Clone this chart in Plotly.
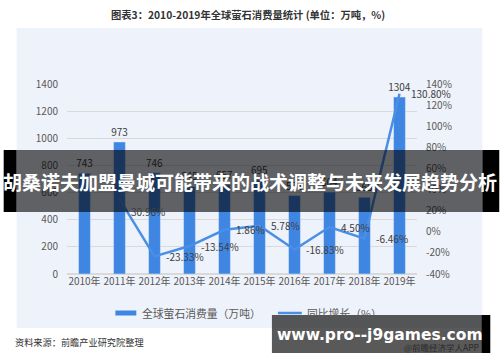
import plotly.graph_objects as go

years = ["2010年", "2011年", "2012年", "2013年", "2014年", "2015年", "2016年", "2017年", "2018年", "2019年"]
consumption = [743, 973, 746, 645, 657, 695, 578, 604, 565, 1304]
growth_years = years[1:]
growth = [30.96, -23.33, -13.54, 1.86, 5.78, -16.83, 4.50, -6.46, 130.80]
growth_labels = ["30.96%", "-23.33%", "-13.54%", "1.86%", "5.78%", "-16.83%", "4.50%", "-6.46%", "130.80%"]
left_ticks = [0, 200, 400, 600, 800, 1000, 1200, 1400]
right_ticks = [-40, -20, 0, 20, 40, 60, 80, 100, 120, 140]

W, H = 500, 362
L, R, T, B = 66.5, 417.5, 84, 274
FONT = "Noto Sans CJK SC"
BAR = "#3F86E3"
LINE = "#4A8FE6"

def px(x):
    return (x - L) / (R - L)

def py(y):
    return (B - y) / (B - T)

fig = go.Figure()
fig.add_trace(go.Bar(
    x=years, y=consumption, width=0.34, marker_color=BAR,
    text=[str(v) for v in consumption], textposition="outside", constraintext="none",
    textfont=dict(family=FONT, size=10, color="#404040"),
    cliponaxis=False, name="全球萤石消费量（万吨）", showlegend=False,
))
fig.add_trace(go.Scatter(
    x=growth_years, y=growth, yaxis="y2", mode="lines",
    line=dict(color=LINE, width=2.5),
    cliponaxis=False, name="同比增长（%）", showlegend=False,
))

shapes = [
    dict(type="rect", xref="paper", yref="paper", x0=px(16), x1=px(483), y0=py(328), y1=py(28),
         fillcolor="#EEF2FA", line=dict(width=0), layer="below"),
    dict(type="rect", xref="paper", yref="paper", x0=px(115), x1=px(136), y0=py(315.5), y1=py(310.5),
         fillcolor=BAR, line=dict(width=0)),
    dict(type="line", xref="paper", yref="paper", x0=px(278), x1=px(302), y0=py(313), y1=py(313),
         line=dict(color=LINE, width=2.5)),
    dict(type="rect", xref="paper", yref="paper", x0=px(16), x1=px(483), y0=py(212), y1=py(150),
         fillcolor="rgba(0,0,0,0.6)", line=dict(width=0), layer="above"),
    dict(type="rect", xref="paper", yref="paper", x0=px(3), x1=px(16), y0=py(212), y1=py(150),
         fillcolor="#000000", line=dict(width=0), layer="above"),
    dict(type="rect", xref="paper", yref="paper", x0=px(483), x1=px(500), y0=py(212), y1=py(150),
         fillcolor="#000000", line=dict(width=0), layer="above"),
    dict(type="rect", xref="paper", yref="paper", x0=px(272), x1=px(482), y0=py(353), y1=py(315),
         fillcolor="rgba(0,0,0,0.65)", line=dict(width=0), layer="above"),
    dict(type="rect", xref="paper", yref="paper", x0=px(482), x1=px(491), y0=py(353), y1=py(315),
         fillcolor="#000000", line=dict(width=0), layer="above"),
]

annotations = []
for i, (yr, g, lab) in enumerate(zip(growth_years, growth, growth_labels)):
    annotations.append(dict(
        text=lab, x=yr, y=g, xref="x", yref="y2", showarrow=False,
        xanchor="left", yanchor="middle", xshift=9, yshift=(-12 if i == 0 else 0),
        font=dict(family=FONT, size=10, color="#404040"),
    ))

annotations += [
    dict(text="<b>图表3：2010-2019年全球萤石消费量统计 (单位：万吨，%)</b>", x=px(248), y=py(14),
         xref="paper", yref="paper", showarrow=False, xanchor="center", yanchor="middle",
         font=dict(family=FONT, size=10.3, color="#333333")),
    dict(text="全球萤石消费量（万吨）", x=px(140), y=py(313), xref="paper", yref="paper",
         showarrow=False, xanchor="left", yanchor="middle",
         font=dict(family=FONT, size=10.8, color="#595959")),
    dict(text="同比增长（%）", x=px(305), y=py(313), xref="paper", yref="paper",
         showarrow=False, xanchor="left", yanchor="middle",
         font=dict(family=FONT, size=10.8, color="#595959")),
    dict(text="资料来源：前瞻产业研究院整理", x=px(12), y=py(342), xref="paper", yref="paper",
         showarrow=False, xanchor="left", yanchor="middle",
         font=dict(family=FONT, size=9.2, color="#333333")),
    dict(text="<b>胡桑诺夫加盟曼城可能带来的战术调整与未来发展趋势分析</b>", x=px(250), y=py(181),
         xref="paper", yref="paper", showarrow=False, xanchor="center", yanchor="middle",
         font=dict(family=FONT, size=19, color="#FFFFFF")),
    dict(text="<b>www.pro--j9games.com</b>", x=px(380), y=py(335), xref="paper", yref="paper",
         showarrow=False, xanchor="center", yanchor="middle",
         font=dict(family="DejaVu Sans", size=15.5, color="#FFFFFF")),
    dict(text="@前瞻经济学人APP", x=px(482), y=py(347), xref="paper", yref="paper",
         showarrow=False, xanchor="right", yanchor="middle",
         font=dict(family=FONT, size=8.5, color="#2a2a2a")),
]

fig.update_layout(
    width=W, height=H,
    margin=dict(l=L, r=W - R, t=T, b=H - B, pad=0),
    paper_bgcolor="#FFFFFF", plot_bgcolor="rgba(0,0,0,0)",
    showlegend=False,
    font=dict(family=FONT, size=10, color="#595959"),
    xaxis=dict(type="category", range=[-0.5, len(years) - 0.5], autorange=False,
               showgrid=False, showline=False, ticks="", tickangle=0,
               automargin=False, tickfont=dict(family=FONT, size=10, color="#595959")),
    yaxis=dict(range=[0, 1400], autorange=False, tickvals=left_ticks, showgrid=True, gridcolor="#D9D9D9",
               gridwidth=1, zeroline=True, zerolinecolor="#D9D9D9", showline=False,
               ticklabelstandoff=8, tickfont=dict(family=FONT, size=10, color="#595959")),
    yaxis2=dict(range=[-40, 140], autorange=False, tickvals=right_ticks, ticktext=[f"{v}%" for v in right_ticks],
                overlaying="y", side="right", showgrid=False, zeroline=False, showline=False,
                ticklabelstandoff=8, tickfont=dict(family=FONT, size=10, color="#595959")),
    shapes=shapes, annotations=annotations,
)

fig.write_html("out.html", config={"displayModeBar": False},
               post_script="document.body.style.margin='0px';document.body.style.overflow='hidden';")
